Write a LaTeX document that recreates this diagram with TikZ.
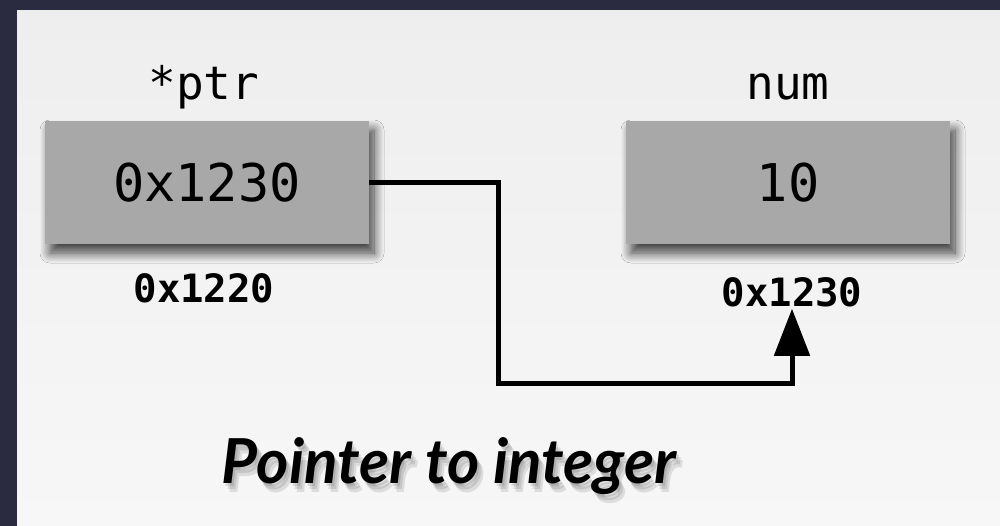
\documentclass[tikz,border=0pt]{standalone}
\usepackage{fontspec}
\setmainfont{Lato}
\newfontfamily\monof{DejaVu Sans Mono}
\usetikzlibrary{shadows.blur,arrows.meta,calc}
\definecolor{frame}{HTML}{2A2A40}
\definecolor{boxgray}{HTML}{A8A8A8}
\definecolor{paneltop}{HTML}{EEEEEE}
\definecolor{panelbot}{HTML}{F7F7F7}
\newcommand{\titletext}{Pointer to integer}
\begin{document}
\begin{tikzpicture}[x=1pt,y=1pt,
  membox/.style={fill=boxgray, minimum width=324pt, minimum height=123pt, inner sep=0pt,
    blur shadow={shadow xshift=5pt, shadow yshift=-9pt, shadow blur radius=10pt, shadow blur steps=12, shadow opacity=75},
    font=\monof\fontsize{52}{52}\selectfont},
  varlabel/.style={font=\monof\fontsize{46}{46}\selectfont, inner sep=0pt, anchor=base},
  addrlabel/.style={font=\monof\bfseries\fontsize{39}{39}\selectfont, inner sep=0pt, anchor=base},
  titlefont/.style={font=\bfseries\itshape\fontsize{62}{62}\selectfont, inner sep=0pt, anchor=base},
  link/.style={line width=5pt, -{Triangle[length=47pt,width=35pt]}}
]
\useasboundingbox (0,0) rectangle (1000,-526);
\fill[frame] (0,0) rectangle (1000,-526);
\shade[top color=paneltop, bottom color=panelbot] (17,-11) rectangle (1000,-526);

\node[varlabel] (ptrname) at (204,-100) {*ptr};
\node[varlabel] (numname) at (788,-100) {num};
\node[membox] (ptr) at (207,-182.5) {0x1230};
\node[membox] (num) at (788,-182.5) {10};
\node[addrlabel] (ptraddr) at (204,-302) {0x1220};
\node[addrlabel] (numaddr) at (792,-306) {0x1230};

\coordinate (tip) at ($(numaddr.south)+(0,-2)$);
\draw[link] (ptr.east) -| (498,-383) -| (tip);

\foreach \i/\dx/\dy in {1/2/3,2/4/6,3/6/9}
  \node[titlefont, text=black, opacity=0.1] (titleshadow\i) at (449+\dx,-483-\dy) {\titletext};
\node[titlefont] (title) at (449,-483) {\titletext};
\end{tikzpicture}
\end{document}
